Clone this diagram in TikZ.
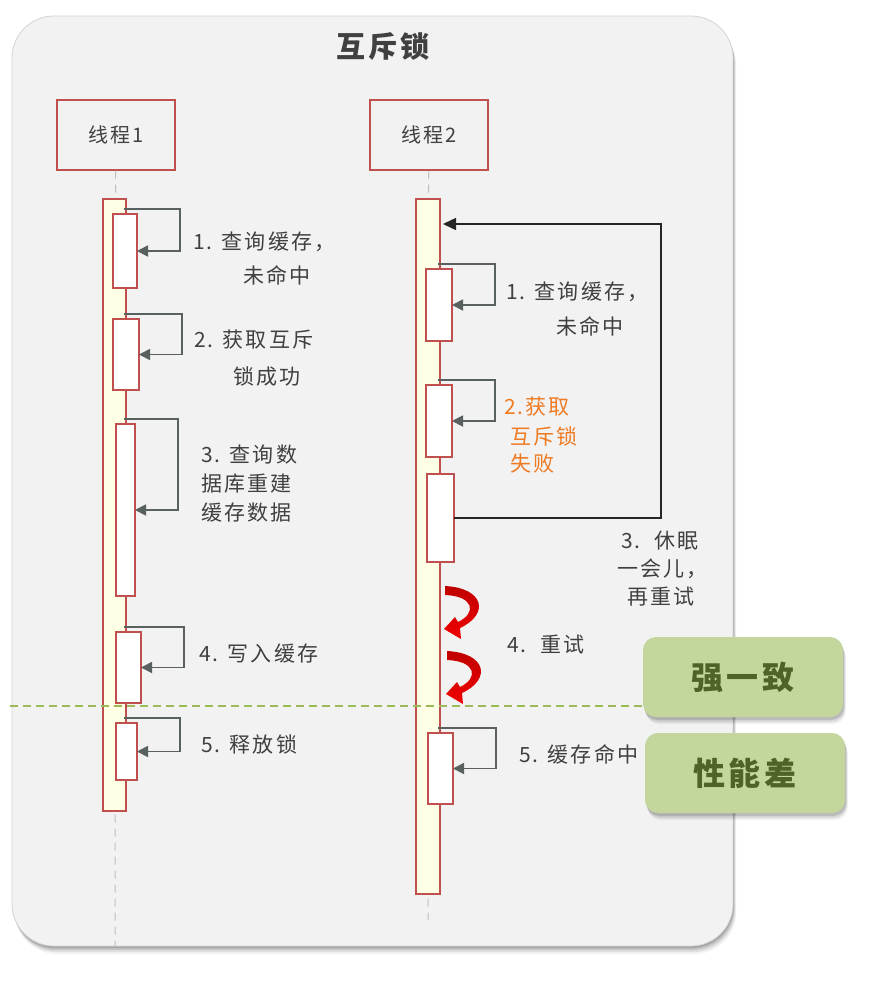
\documentclass[tikz,border=0pt]{standalone}
\usepackage{fontspec}
\setmainfont{Noto Sans CJK SC}[LetterSpace=10]
\usetikzlibrary{arrows.meta,calc}

\definecolor{panelbg}{HTML}{F2F2F2}
\definecolor{panelline}{HTML}{D3D3D3}
\definecolor{barred}{HTML}{C0504D}
\definecolor{baryellow}{HTML}{FFFFE6}
\definecolor{txt}{HTML}{404040}
\definecolor{arrgray}{HTML}{596060}
\definecolor{orangetxt}{HTML}{EE7A22}
\definecolor{greenfill}{HTML}{C3D69B}
\definecolor{greentxt}{HTML}{4F6228}
\definecolor{dashgreen}{HTML}{9BBB59}
\definecolor{lifegray}{HTML}{BFBFBF}
\definecolor{arcdark}{HTML}{C00000}
\definecolor{arcred}{HTML}{F00000}

\tikzset{
  threadbox/.style={draw=barred, line width=1.5pt, fill=panelbg, minimum width=118pt, minimum height=70pt, inner sep=0pt, anchor=north west, font=\fontsize{20}{24}\selectfont, text=txt},
  actbar/.style={draw=barred, line width=1.3pt, fill=baryellow, inner sep=0pt, outer sep=0pt, anchor=north west},
  actbox/.style={draw=barred, line width=1.3pt, fill=white, inner sep=0pt, outer sep=0pt, anchor=north west},
  selfarr/.style={draw=arrgray, line width=1.8pt, -{Triangle[length=11pt,width=11pt]}},
  loopline/.style={draw=black!85, line width=1.5pt, -{Triangle[length=13pt,width=12pt]}},
  lifeline/.style={draw=lifegray, line width=1pt, dash pattern=on 8pt off 6pt},
  lbl/.style={text=txt, font=\fontsize{21}{26}\selectfont, inner sep=0pt, anchor=west},
  olbl/.style={lbl, text=orangetxt},
  greenbox/.style={fill=greenfill, rounded corners=13pt, minimum width=200pt, minimum height=80pt, inner sep=0pt, text=greentxt, font=\fontsize{32}{36}\selectfont\bfseries},
  retryarc/.style={top color=arcdark, bottom color=arcred, draw=none},
}

\begin{document}
\begin{tikzpicture}[x=1pt,y=-1pt]
\useasboundingbox (0,0) rectangle (877,994);
\fill[white] (0,0) rectangle (877,994);

% panel with soft shadow
\foreach \o/\a in {8/0.05,6/0.08,4/0.12,2/0.15}{
  \fill[black, opacity=\a, rounded corners=42pt] (12+\o*0.4,16+\o) rectangle (733+\o*0.4,946+\o);
}
\filldraw[fill=panelbg, draw=panelline, line width=0.8pt, rounded corners=42pt] (12,16) rectangle (733,946);

\node[font=\fontsize{29}{34}\selectfont\bfseries, text=txt] (title) at (383,47) {互斥锁};

% threads
\node[threadbox] (th1) at (56,99) {线程1};
\node[threadbox] (th2) at (369,99) {线程2};

\coordinate (end1) at (115,946);
\coordinate (end2) at (428,920);
\draw[lifeline] (th1.south) -- (end1);
\draw[lifeline] (th2.south) -- (end2);

% activation bars
\node[actbar, minimum width=23pt, minimum height=612pt] (b1) at (103,199) {};
\node[actbar, minimum width=24pt, minimum height=695pt] (b2) at (416,199) {};

% left boxes
\node[actbox, minimum width=24pt, minimum height=74pt] (a1) at (113,214) {};
\node[actbox, minimum width=26pt, minimum height=71pt] (a2) at (113,319) {};
\node[actbox, minimum width=19pt, minimum height=172pt] (a3) at (116,424) {};
\node[actbox, minimum width=25pt, minimum height=71pt] (a4) at (116,632) {};
\node[actbox, minimum width=21pt, minimum height=57pt] (a5) at (116,723) {};

% right boxes
\node[actbox, minimum width=26pt, minimum height=72pt] (r1) at (426,269) {};
\node[actbox, minimum width=26pt, minimum height=72pt] (r2) at (426,385) {};
\node[actbox, minimum width=27pt, minimum height=88pt] (r3) at (427,474) {};
\node[actbox, minimum width=25pt, minimum height=71pt] (r5) at (428,733) {};

% self arrows
\foreach \bx/\br in {a1/b1,a2/b1,a3/b1,a4/b1,a5/b1,r1/b2,r2/b2,r5/b2}{
  \draw[selfarr] ($(\bx.north -| \br.east)+(-2pt,5pt)$) -| ($(\bx.east)+(43pt,0pt)$) -- (\bx.east);
}

% retry loop arrow
\coordinate (lp) at (661,224);
\draw[loopline] (r3.east) -| (lp) -- ($(lp -| b2.east)+(3pt,0pt)$);

% red curved arrows
\foreach \dx/\dy in {0/0,2/65}{
  \begin{scope}[shift={(\dx,\dy)}]
    \shade[retryarc] (445,586) .. controls (484,588) and (490,614) .. (460,628)
      -- (461,639) -- (444,629) -- (455,617) -- (458,622)
      .. controls (477,613) and (474,596) .. (445,595) -- cycle;
  \end{scope}
}

% left labels
\node[lbl] (l1a) at (193,242) {1. 查询缓存，};
\node[lbl] (l1b) at (243,275) {未命中};
\node[lbl] (l2a) at (194,340) {2. 获取互斥};
\node[lbl] (l2b) at (233,377) {锁成功};
\node[lbl] (l3a) at (201,455) {3. 查询数};
\node[lbl] (l3b) at (201,484) {据库重建};
\node[lbl] (l3c) at (201,513) {缓存数据};
\node[lbl] (l4) at (199,654) {4. 写入缓存};
\node[lbl] (l5) at (201,744) {5. 释放锁};

% right labels
\node[lbl] (m1a) at (506,292) {1. 查询缓存，};
\node[lbl] (m1b) at (556,326) {未命中};
\node[olbl] (m2a) at (504,407) {2.获取};
\node[olbl] (m2b) at (510,436) {互斥锁};
\node[olbl] (m2c) at (510,464) {失败};
\node[lbl] (m3a) at (621,541) {3.\ \ 休眠};
\node[lbl] (m3b) at (617,569) {一会儿，};
\node[lbl] (m3c) at (627,597) {再重试};
\node[lbl] (m4) at (507,645) {4.\ \ 重试};
\node[lbl] (m5) at (519,754) {5. 缓存命中};

% green boxes
\foreach \o/\a in {7/0.06,5/0.09,3/0.14}{
  \fill[black, opacity=\a, rounded corners=13pt] (643+\o*0.4,637+\o) rectangle (843+\o*0.4,717+\o);
  \fill[black, opacity=\a, rounded corners=13pt] (645+\o*0.4,733+\o) rectangle (845+\o*0.4,813+\o);
}
\node[greenbox] (g1) at (743,677) {强一致};
\node[greenbox] (g2) at (745,773) {性能差};

% dashed separator
\coordinate (dg) at (10,706);
\draw[draw=dashgreen, line width=1.5pt, dash pattern=on 8pt off 5pt] (dg) -- (g1.west |- dg);
\end{tikzpicture}
\end{document}
